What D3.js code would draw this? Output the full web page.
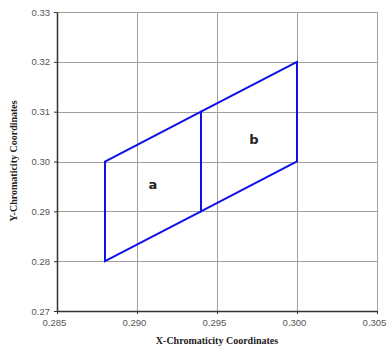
<!DOCTYPE html>
<html>
<head>
<meta charset="utf-8">
<script src="https://d3js.org/d3.v7.min.js"></script>
<style>
  body { margin: 0; background: #fff; }
</style>
</head>
<body>
<svg id="chart" width="387" height="349"></svg>
<script>
// Data
const xTicks = [0.285, 0.290, 0.295, 0.300, 0.305];
const yTicks = [0.27, 0.28, 0.29, 0.30, 0.31, 0.32, 0.33];
const regionA = [[0.288, 0.28], [0.288, 0.30], [0.294, 0.31], [0.294, 0.29]];
const regionB = [[0.294, 0.29], [0.294, 0.31], [0.300, 0.32], [0.300, 0.30]];
const regionNames = ["a", "b"];
const labelPos = [[0.2910, 0.2954], [0.2973, 0.3044]];

const svg = d3.select("svg#chart");
const margin = {left: 57, top: 12, right: 10, bottom: 38};
const width = 387 - margin.left - margin.right;
const height = 349 - margin.top - margin.bottom;

const x = d3.scaleLinear().domain([0.285, 0.305]).range([0, width]);
const y = d3.scaleLinear().domain([0.27, 0.33]).range([height, 0]);

const g = svg.append("g")
  .attr("transform", "translate(" + margin.left + "," + margin.top + ")");

// Grid
g.selectAll("line.vgrid")
  .data(xTicks)
  .join("line")
    .attr("x1", d => Math.round(x(d)) + 0.5)
    .attr("x2", d => Math.round(x(d)) + 0.5)
    .attr("y1", 0)
    .attr("y2", height)
    .style("stroke", "#a0a0a0")
    .style("stroke-width", 1);

g.selectAll("line.hgrid")
  .data(yTicks)
  .join("line")
    .attr("y1", d => Math.round(y(d)) + 0.5)
    .attr("y2", d => Math.round(y(d)) + 0.5)
    .attr("x1", 0)
    .attr("x2", width)
    .style("stroke", "#a0a0a0")
    .style("stroke-width", 1);

// Axes
const xAxis = g.append("g")
  .attr("transform", "translate(0," + height + ")")
  .call(d3.axisBottom(x).tickValues(xTicks).tickFormat(d3.format(".3f")).tickSize(3).tickSizeOuter(0));
const yAxis = g.append("g")
  .call(d3.axisLeft(y).tickValues(yTicks).tickFormat(d3.format(".2f")).tickSize(3).tickSizeOuter(0));

[xAxis, yAxis].forEach(a => {
  a.select(".domain").style("stroke", "#333").style("stroke-width", 1.5);
  a.selectAll(".tick line").style("stroke", "#333");
  a.selectAll("text")
    .style("font-family", "'Liberation Sans', Arial, sans-serif")
    .style("font-size", "9.5px")
    .style("fill", "#555");
});
xAxis.selectAll("text").attr("dy", "0.9em").attr("dx", -3);
yAxis.selectAll("text").attr("x", -7);

// Regions
const line = d3.line().x(d => x(d[0])).y(d => y(d[1])).curve(d3.curveLinearClosed);
g.selectAll("path.region")
  .data([regionA, regionB])
  .join("path")
    .attr("d", line)
    .style("fill", "none")
    .style("stroke", "#1010e8")
    .style("stroke-width", 2);

g.selectAll("text.region")
  .data(regionNames)
  .join("text")
    .attr("x", (d, i) => x(labelPos[i][0]))
    .attr("y", (d, i) => y(labelPos[i][1]))
    .attr("dy", "0.35em")
    .text(d => d)
    .style("text-anchor", "middle")
    .style("font-family", "'DejaVu Sans', sans-serif")
    .style("font-weight", "bold")
    .style("font-size", "13px")
    .style("fill", "#222");

// Axis titles
svg.append("text")
  .attr("x", margin.left + width / 2)
  .attr("y", 344)
  .text("X-Chromaticity Coordinates")
  .style("text-anchor", "middle")
  .style("font-family", "'Liberation Serif', 'Times New Roman', serif")
  .style("font-weight", "bold")
  .style("font-size", "10px")
  .style("fill", "#222");

svg.append("text")
  .attr("transform", "translate(17," + 161 + ") rotate(-90)")
  .text("Y-Chromaticity Coordinates")
  .style("text-anchor", "middle")
  .style("font-family", "'Liberation Serif', 'Times New Roman', serif")
  .style("font-weight", "bold")
  .style("font-size", "10px")
  .style("fill", "#222");
</script>
</body>
</html>
